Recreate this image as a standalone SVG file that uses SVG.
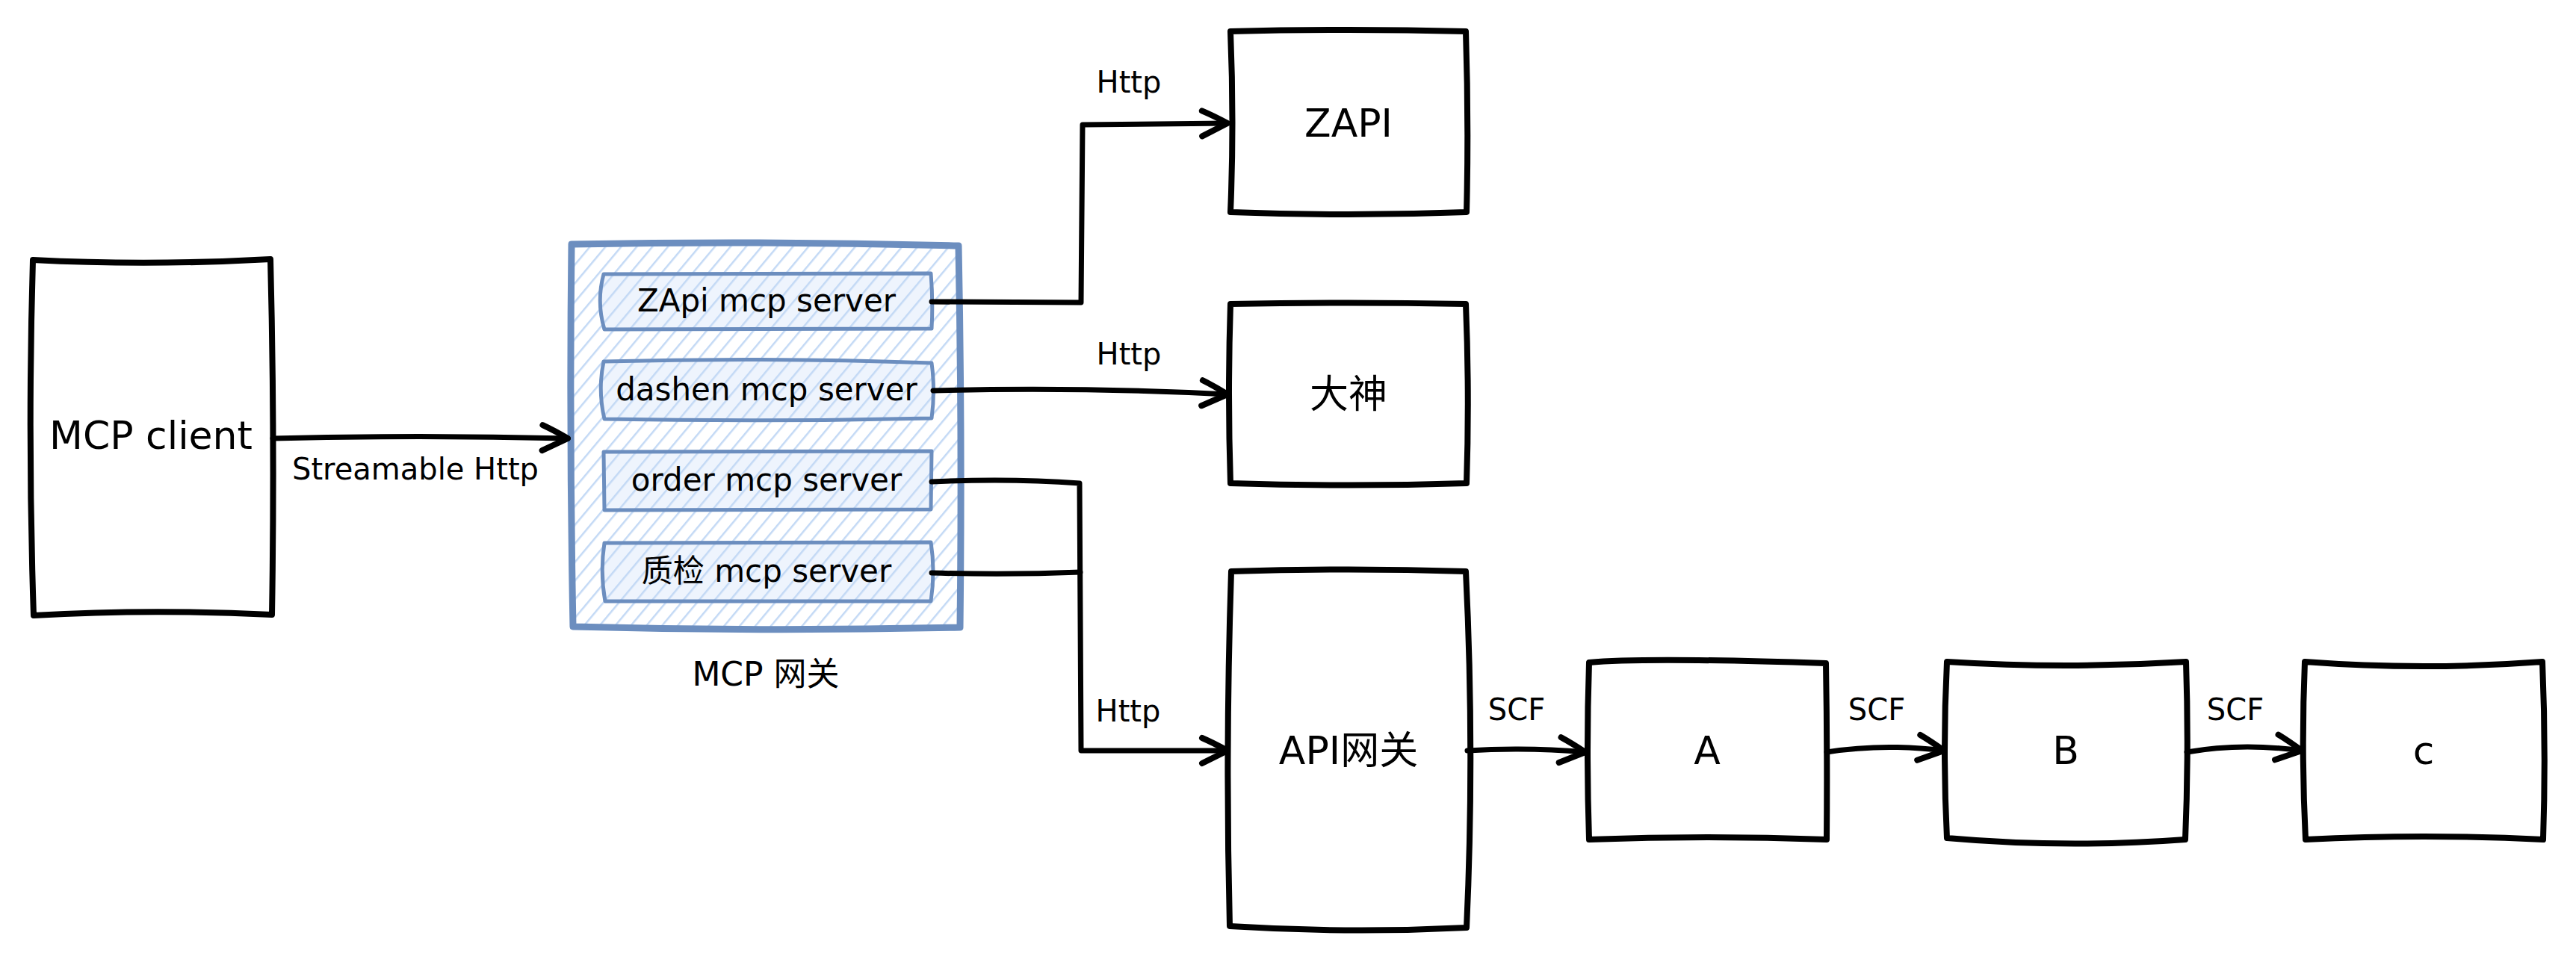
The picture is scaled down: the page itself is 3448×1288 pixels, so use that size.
<svg xmlns="http://www.w3.org/2000/svg" width="3448" height="1288" viewBox="0 0 3448 1288">
<style>
.box{fill:#ffffff;stroke:#000000;stroke-width:8;stroke-linejoin:round;stroke-linecap:round}
.gw{fill:url(#hatch);stroke:#6c8ebf;stroke-width:9;stroke-linejoin:round}
.srv{fill:url(#hatch2);stroke:#6c8ebf;stroke-width:5;stroke-linejoin:round}
.conn{fill:none;stroke:#000000;stroke-width:7;stroke-linejoin:round;stroke-linecap:round}
text{font-family:"DejaVu Sans","Noto Sans CJK SC",sans-serif;fill:#000000;text-anchor:middle;dominant-baseline:central}
.big{font-size:52px}
.mid{font-size:42px}
.lbl{font-size:40px}
</style>
<defs>
<pattern id="hatch" patternUnits="userSpaceOnUse" width="16" height="16" patternTransform="rotate(40)">
<rect width="16" height="16" fill="#ffffff"/>
<line x1="0" y1="0" x2="0" y2="16" stroke="#c3d9f5" stroke-width="5"/>
</pattern>
<pattern id="hatch2" patternUnits="userSpaceOnUse" width="16" height="16" patternTransform="rotate(40)">
<rect width="16" height="16" fill="#eef4fd"/>
<line x1="0" y1="0" x2="0" y2="16" stroke="#c3d9f5" stroke-width="5"/>
</pattern>
<marker id="arr" markerUnits="userSpaceOnUse" viewBox="0 0 44 44" refX="40" refY="22" markerWidth="44" markerHeight="44" orient="auto">
<path d="M6,5 Q22,12 40,22 Q22,31 6,39" fill="none" stroke="#000000" stroke-width="8" stroke-linecap="round" stroke-linejoin="round"/>
</marker>
</defs>
<rect width="3448" height="1288" fill="#ffffff"/>

<g id="mcp-client">
<path class="box" d="M44,348 Q200,356 362,347 Q368,585 364,823 Q200,815 45,824 Q37,585 44,348 Z"/>
<text class="big" x="202" y="583">MCP client</text>
</g>

<g id="mcp-gateway">
<path class="gw" d="M765,327 Q1025,322 1283,329 Q1288,585 1285,840 Q1025,846 767,839 Q762,585 765,327 Z"/>
<text style="font-size:44px" x="1025" y="902">MCP 网关</text>
</g>

<g id="zapi-server">
<path class="srv" d="M808,367 L1246,366 Q1249,403 1247,440 L809,441 Q798,404 808,367 Z"/>
<text class="mid" x="1026" y="402">ZApi mcp server</text>
</g>
<g id="dashen-server">
<path class="srv" d="M808,484 Q1030,478 1247,486 Q1252,522 1247,560 Q1030,565 809,561 Q800,522 808,484 Z"/>
<text class="mid" x="1026" y="521">dashen mcp server</text>
</g>
<g id="order-server">
<path class="srv" d="M808,605 L1247,604 L1246,682 L809,683 Z"/>
<text class="mid" x="1026" y="642">order mcp server</text>
</g>
<g id="zhijian-server">
<path class="srv" d="M809,727 L1246,726 Q1252,765 1246,805 L810,805 Q803,766 809,727 Z"/>
<text class="mid" x="1026" y="764">质检 mcp server</text>
</g>

<g id="zapi">
<path class="box" d="M1647,42 Q1805,38 1962,42 Q1966,165 1963,284 Q1805,290 1647,284 Q1652,165 1647,42 Z"/>
<text class="big" x="1805" y="165">ZAPI</text>
</g>

<g id="dashen">
<path class="box" d="M1647,407 Q1805,404 1962,407 Q1967,528 1963,647 Q1805,652 1647,647 Q1643,528 1647,407 Z"/>
<text class="big" x="1805" y="528">大神</text>
</g>

<g id="api-gateway">
<path class="box" d="M1648,765 Q1805,760 1962,765 Q1974,1005 1963,1242 Q1805,1250 1646,1240 Q1640,1005 1648,765 Z"/>
<text class="big" x="1805" y="1005">API网关</text>
</g>

<g id="node-a">
<path class="box" d="M2127,887 Q2200,880 2444,888 Q2446,1005 2445,1124 Q2285,1118 2127,1124 Q2123,1005 2127,887 Z"/>
<text class="big" x="2285" y="1005">A</text>
</g>

<g id="node-b">
<path class="box" d="M2606,886 Q2765,896 2926,886 Q2930,1005 2925,1124 Q2765,1136 2606,1122 Q2600,1005 2606,886 Z"/>
<text class="big" x="2765" y="1005">B</text>
</g>

<g id="node-c">
<path class="box" d="M3085,886 Q3244,898 3403,886 Q3408,1005 3404,1124 Q3244,1116 3086,1124 Q3080,1005 3085,886 Z"/>
<text class="big" x="3244" y="1005">c</text>
</g>

<g id="connectors">
<path class="conn" d="M365,587 Q560,582 760,587" marker-end="url(#arr)"/>
<path class="conn" d="M1247,404 L1447,405 L1449,167 L1643,165" marker-end="url(#arr)"/>
<path class="conn" d="M1249,523 Q1450,518 1643,528" marker-end="url(#arr)"/>
<path class="conn" d="M1247,645 Q1350,640 1445,647 L1447,1005 L1643,1005" marker-end="url(#arr)"/>
<path class="conn" d="M1247,767 Q1350,770 1446,766"/>
<path class="conn" d="M1964,1005 Q2040,1000 2122,1007" marker-end="url(#arr)"/>
<path class="conn" d="M2445,1007 Q2520,995 2602,1005" marker-end="url(#arr)"/>
<path class="conn" d="M2927,1007 Q3000,994 3081,1005" marker-end="url(#arr)"/>
<text class="lbl" x="556" y="628">Streamable Http</text>
<text class="lbl" x="1511" y="110">Http</text>
<text class="lbl" x="1511" y="474">Http</text>
<text class="lbl" x="1510" y="952">Http</text>
<text class="lbl" x="2030" y="950">SCF</text>
<text class="lbl" x="2512" y="950">SCF</text>
<text class="lbl" x="2992" y="950">SCF</text>
</g>
</svg>
